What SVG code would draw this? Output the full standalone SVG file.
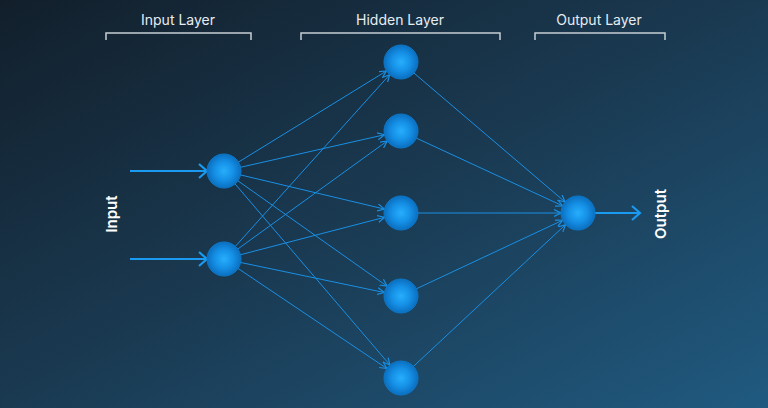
<svg xmlns="http://www.w3.org/2000/svg" width="768" height="408" viewBox="0 0 768 408">
<defs>
<linearGradient id="bg" x1="0" y1="0" x2="1" y2="1">
<stop offset="0" stop-color="#121f2b"/>
<stop offset="0.5" stop-color="#1a3a52"/>
<stop offset="1" stop-color="#205a80"/>
</linearGradient>
<radialGradient id="ball" cx="0.5" cy="0.5" r="0.5">
<stop offset="0" stop-color="#27aefc"/>
<stop offset="0.55" stop-color="#1590e6"/>
<stop offset="1" stop-color="#0b6fc0"/>
</radialGradient>
<marker id="sm" markerUnits="userSpaceOnUse" markerWidth="8" markerHeight="8" refX="24" refY="4" orient="auto">
<path d="M0,0.5 L7,4 L0,7.5" fill="none" stroke="#1a8fe3" stroke-width="1.2"/>
</marker>
<marker id="big" markerUnits="userSpaceOnUse" markerWidth="12" markerHeight="16" refX="10" refY="8" orient="auto">
<path d="M2,1 L10,8 L2,15" fill="none" stroke="#1a9af0" stroke-width="2.2"/>
</marker>
<style>
.lbl{font-family:Inter,"Open Sans",sans-serif;font-size:14px;fill:#e6edf2;text-anchor:middle}
.side{font-family:Inter,"Open Sans",sans-serif;font-size:15px;font-weight:600;fill:#ffffff;text-anchor:middle}
.br{fill:none;stroke:#c6ced4;stroke-width:1.5}
.e{stroke:#1a8fe3;stroke-width:1;fill:none;marker-end:url(#sm)}
.io{stroke:#1a9af0;stroke-width:2.2;fill:none;marker-end:url(#big)}
.n{fill:url(#ball);stroke:#0c78c8;stroke-width:1}
</style>
</defs>
<rect width="768" height="408" fill="url(#bg)"/>
<g id="labels">
<text class="lbl" x="178" y="25">Input Layer</text>
<path class="br" d="M106,40 V33 H251 V40"/>
<text class="lbl" x="400" y="25">Hidden Layer</text>
<path class="br" d="M301,40 V33 H500 V40"/>
<text class="lbl" x="599" y="25">Output Layer</text>
<path class="br" d="M535,40 V33 H665 V40"/>
<text class="side" transform="translate(117,214) rotate(-90)">Input</text>
<text class="side" transform="translate(666,214) rotate(-90)">Output</text>
</g>
<g id="connectors">
<line class="io" x1="130" y1="171" x2="207" y2="171"/>
<line class="io" x1="130" y1="259" x2="207" y2="259"/>
<line class="io" x1="595" y1="213" x2="640" y2="213"/>
<line class="e" x1="224" y1="171" x2="401" y2="62"/>
<line class="e" x1="224" y1="171" x2="401" y2="131"/>
<line class="e" x1="224" y1="171" x2="401" y2="213"/>
<line class="e" x1="224" y1="171" x2="401" y2="296"/>
<line class="e" x1="224" y1="171" x2="401" y2="378"/>
<line class="e" x1="224" y1="259" x2="401" y2="62"/>
<line class="e" x1="224" y1="259" x2="401" y2="131"/>
<line class="e" x1="224" y1="259" x2="401" y2="213"/>
<line class="e" x1="224" y1="259" x2="401" y2="296"/>
<line class="e" x1="224" y1="259" x2="401" y2="378"/>
<line class="e" x1="401" y1="62" x2="578" y2="213"/>
<line class="e" x1="401" y1="131" x2="578" y2="213"/>
<line class="e" x1="401" y1="213" x2="578" y2="213"/>
<line class="e" x1="401" y1="296" x2="578" y2="213"/>
<line class="e" x1="401" y1="378" x2="578" y2="213"/>
</g>
<g id="in1"><circle class="n" cx="224" cy="171" r="17"/></g>
<g id="in2"><circle class="n" cx="224" cy="259" r="17"/></g>
<g id="h1"><circle class="n" cx="401" cy="62" r="17"/></g>
<g id="h2"><circle class="n" cx="401" cy="131" r="17"/></g>
<g id="h3"><circle class="n" cx="401" cy="213" r="17"/></g>
<g id="h4"><circle class="n" cx="401" cy="296" r="17"/></g>
<g id="h5"><circle class="n" cx="401" cy="378" r="17"/></g>
<g id="out"><circle class="n" cx="578" cy="213" r="17"/></g>
</svg>
